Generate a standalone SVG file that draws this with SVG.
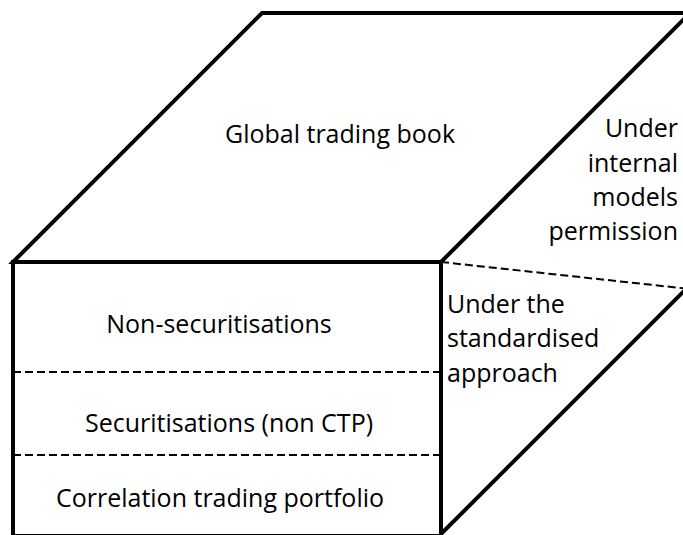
<svg xmlns="http://www.w3.org/2000/svg" width="683" height="535" viewBox="0 0 683 535">
<style>
.edge{fill:none;stroke:#000;stroke-width:4;stroke-linejoin:miter}
.dash{fill:none;stroke:#000;stroke-width:2;stroke-dasharray:8,4}
text{font-family:"Open Sans","Noto Sans",sans-serif;font-size:25px;fill:#000}
.c{text-anchor:middle}
.r{text-anchor:end}
</style>
<rect width="683" height="535" fill="#fff"/>
<g id="connectors">
<polygon class="edge" points="13,262 262,13 690,13 441,262"/>
<rect class="edge" x="13" y="262" width="428" height="274"/>
<polyline class="edge" points="441,262 441,534 690,285 690,13"/>
<line class="dash" x1="441" y1="262" x2="690" y2="289"/>
<line class="dash" x1="13" y1="372" x2="441" y2="372"/>
<line class="dash" x1="13" y1="455" x2="441" y2="455"/>
</g>
<g id="top"><text class="c" x="340" y="143">Global trading book</text></g>
<g id="imp"><text class="r" x="678" y="137">Under</text><text class="r" x="678" y="172">internal</text><text class="r" x="678" y="206">models</text><text class="r" x="678" y="240">permission</text></g>
<g id="sa"><text x="447" y="313">Under the</text><text x="447" y="347">standardised</text><text x="447" y="382">approach</text></g>
<g id="nonsec"><text class="c" x="219" y="333">Non-securitisations</text></g>
<g id="sec"><text class="c" x="229" y="432">Securitisations (non CTP)</text></g>
<g id="ctp"><text class="c" x="220" y="507">Correlation trading portfolio</text></g>
</svg>
